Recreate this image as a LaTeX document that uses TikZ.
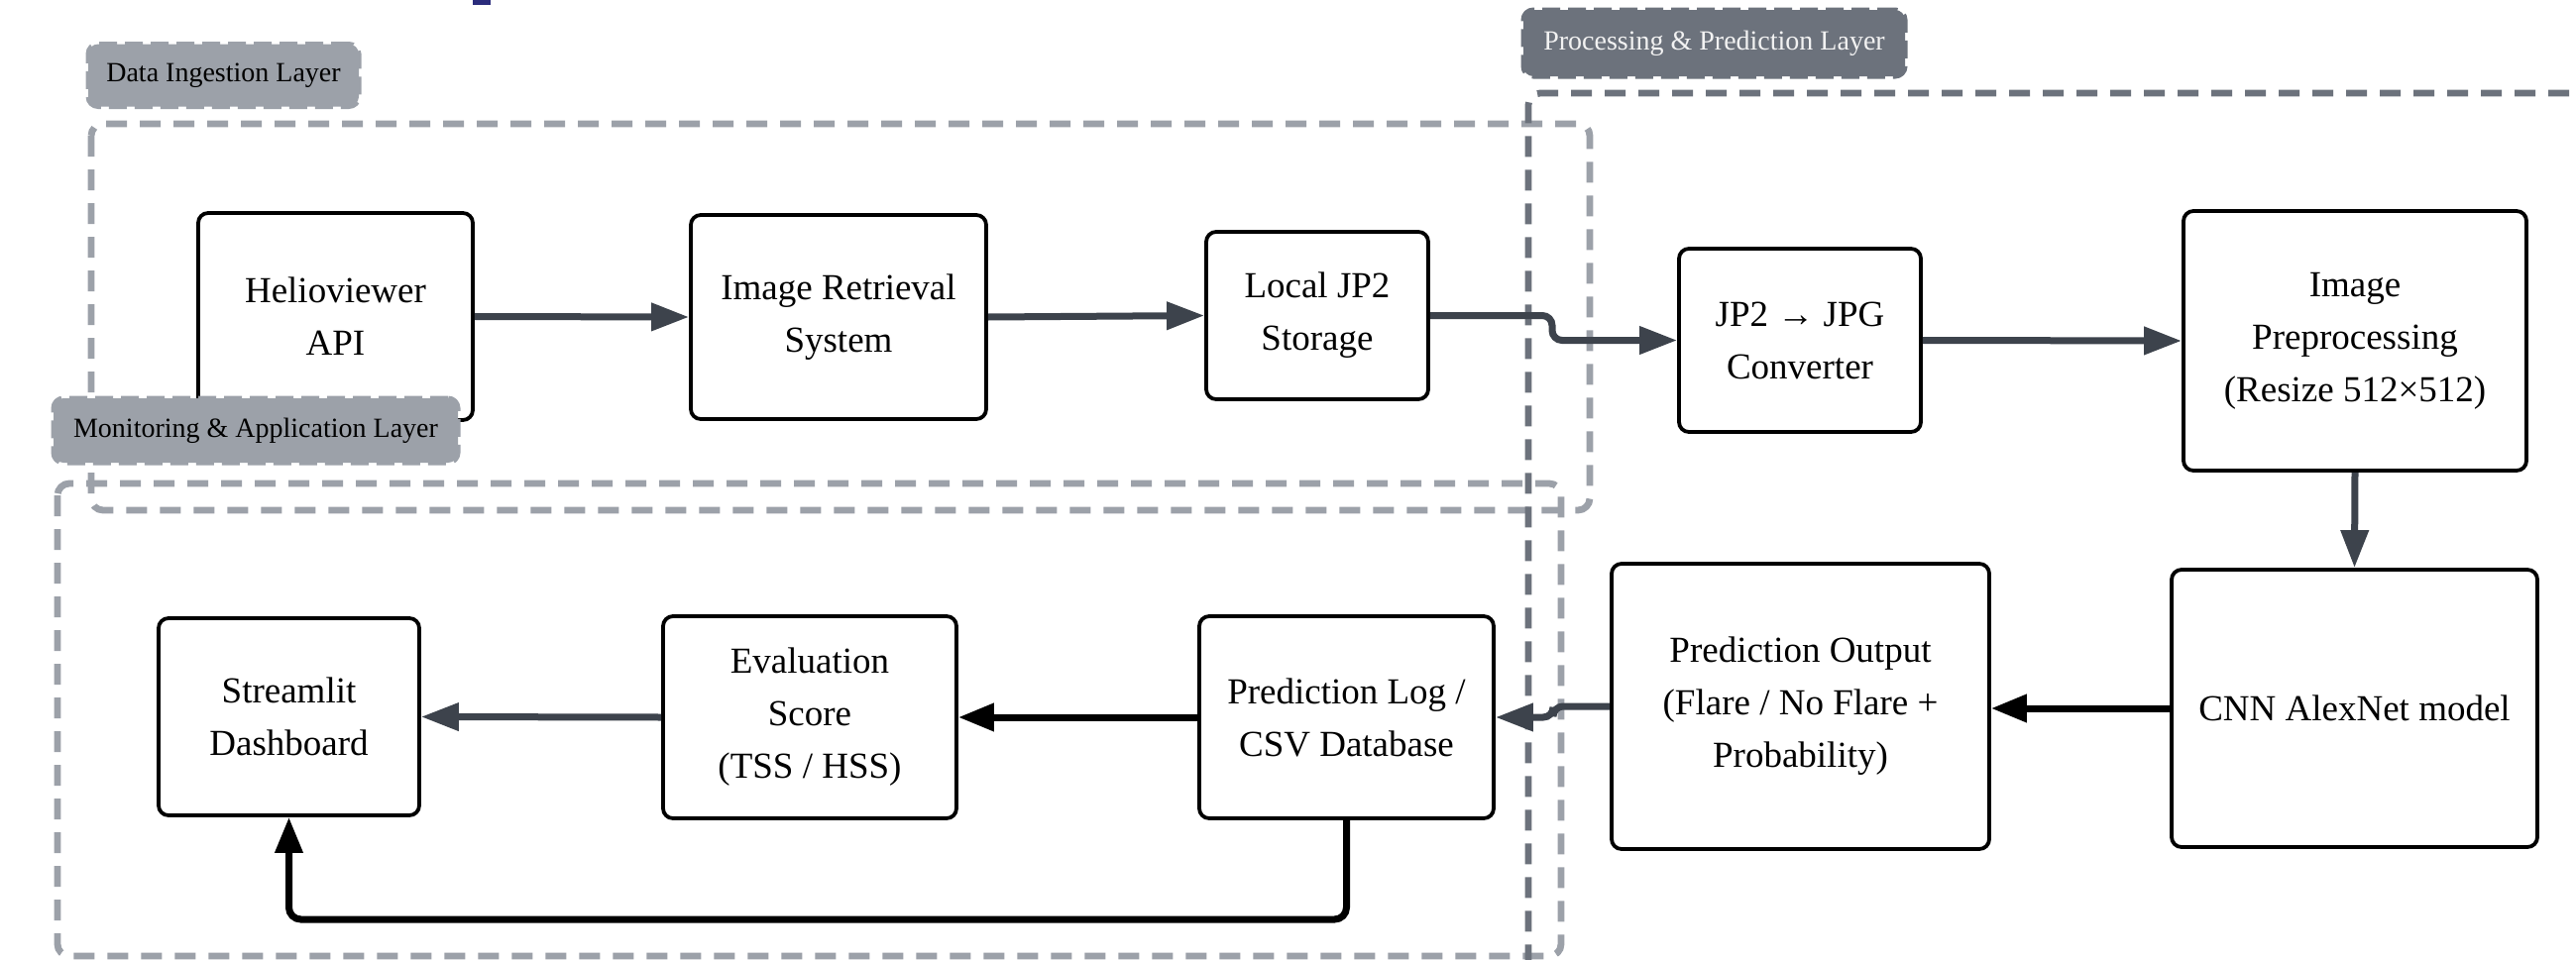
\documentclass[tikz,border=0pt]{standalone}
\usepackage{fontspec}
\setmainfont{Liberation Serif}
\usetikzlibrary{arrows.meta,calc}
\definecolor{lgray}{HTML}{9CA1A9}
\definecolor{dgray}{HTML}{6C727C}
\definecolor{arrgray}{HTML}{3D434C}
\definecolor{navymark}{HTML}{2B2C7C}
\definecolor{badgetext}{HTML}{F2F2F2}
\begin{document}
\begin{tikzpicture}[x=0.5pt,y=-0.5pt,
  box/.style={draw=black, line width=1.9pt, rounded corners=5pt, fill=white, align=center, inner sep=0pt, font=\fontsize{18.5}{26.5}\selectfont},
  layer/.style={line width=3.4pt, dash pattern=on 10.5pt off 6.5pt, rounded corners=6pt},
  badge/.style={line width=2.5pt, dash pattern=on 9pt off 4pt, rounded corners=5pt, inner sep=0pt, font=\fontsize{14}{16}\selectfont},
  flow/.style={line width=3.5pt, draw=arrgray, -{Triangle[length=19pt,width=13.5pt]}},
  flowk/.style={line width=3.5pt, draw=black, -{Triangle[length=18pt,width=13.5pt]}},
]
\useasboundingbox (0,0) rectangle (2599,969);
\fill[white] (0,0) rectangle (2599,969);
\fill[navymark] (477,0) rectangle (495,5);

\begin{scope}
\clip (0,0) rectangle (2599,969);
\draw[layer, draw=lgray] (92,125) rectangle (1604,515);
\draw[layer, draw=lgray] (58,488) rectangle (1575,965);
\draw[layer, draw=dgray] (2660,94) -- (1542,94) -- (1542,1030);
\end{scope}

\node[box, minimum width=138.5pt, minimum height=104.5pt] (helio) at (338.5,319.5) {Helioviewer\\API};
\node[box, minimum width=149pt, minimum height=103pt] (irs) at (846,320) {Image Retrieval\\System};
\node[box, minimum width=112pt, minimum height=84.5pt] (local) at (1329,318.5) {Local JP2\\Storage};
\node[box, minimum width=122pt, minimum height=92.5pt] (conv) at (1816,343.5) {JP2 → JPG\\Converter};
\node[box, minimum width=173pt, minimum height=131pt] (prep) at (2376,344) {Image\\Preprocessing\\(Resize 512×512)};
\node[box, minimum width=184.5pt, minimum height=140pt] (cnn) at (2375.5,715) {CNN AlexNet model};
\node[box, minimum width=190.5pt, minimum height=144pt] (pout) at (1816.5,713) {Prediction Output\\(Flare / No Flare +\\Probability)};
\node[box, minimum width=148.5pt, minimum height=102pt] (plog) at (1358.5,724) {Prediction Log /\\CSV Database};
\node[box, minimum width=148pt, minimum height=102pt] (eval) at (817,724) {Evaluation\\Score\\(TSS / HSS)};
\node[box, minimum width=131.5pt, minimum height=99.5pt] (stream) at (291.5,723.5) {Streamlit\\Dashboard};

\coordinate (k1) at (1566,0);
\coordinate (k2) at (1567,0);
\coordinate (k3) at (0,928);

\draw[flow] (helio.east) -- (irs.west);
\draw[flow] (irs.east) -- (local.west);
\draw[flow, rounded corners=5pt] (local.east) -- (local.east -| k1) -- (conv.west -| k1) -- (conv.west);
\draw[flow] (conv.east) -- (prep.west);
\draw[flow] (prep.south) -- (cnn.north);
\draw[flowk] (cnn.west) -- (cnn.west -| pout.east);
\draw[flow, rounded corners=5pt] (pout.west) -- (pout.west -| k2) -- (plog.east -| k2) -- (plog.east);
\draw[flowk] (plog.west) -- (eval.east);
\draw[flow] (eval.west) -- (stream.east);
\draw[flowk, rounded corners=6pt] (plog.south) -- (plog.south |- k3) -| (stream.south);

\node[badge, fill=lgray, draw=lgray, minimum width=136.5pt, minimum height=31.5pt] (bdi) at (225.5,76) {Data Ingestion Layer};
\node[badge, fill=dgray, draw=dgray, text=badgetext, minimum width=192.5pt, minimum height=33.5pt] (bpp) at (1729.5,43.5) {Processing \& Prediction Layer};
\node[badge, fill=lgray, draw=lgray, minimum width=204pt, minimum height=32.5pt] (bma) at (258,434.5) {Monitoring \& Application Layer};
\end{tikzpicture}
\end{document}
